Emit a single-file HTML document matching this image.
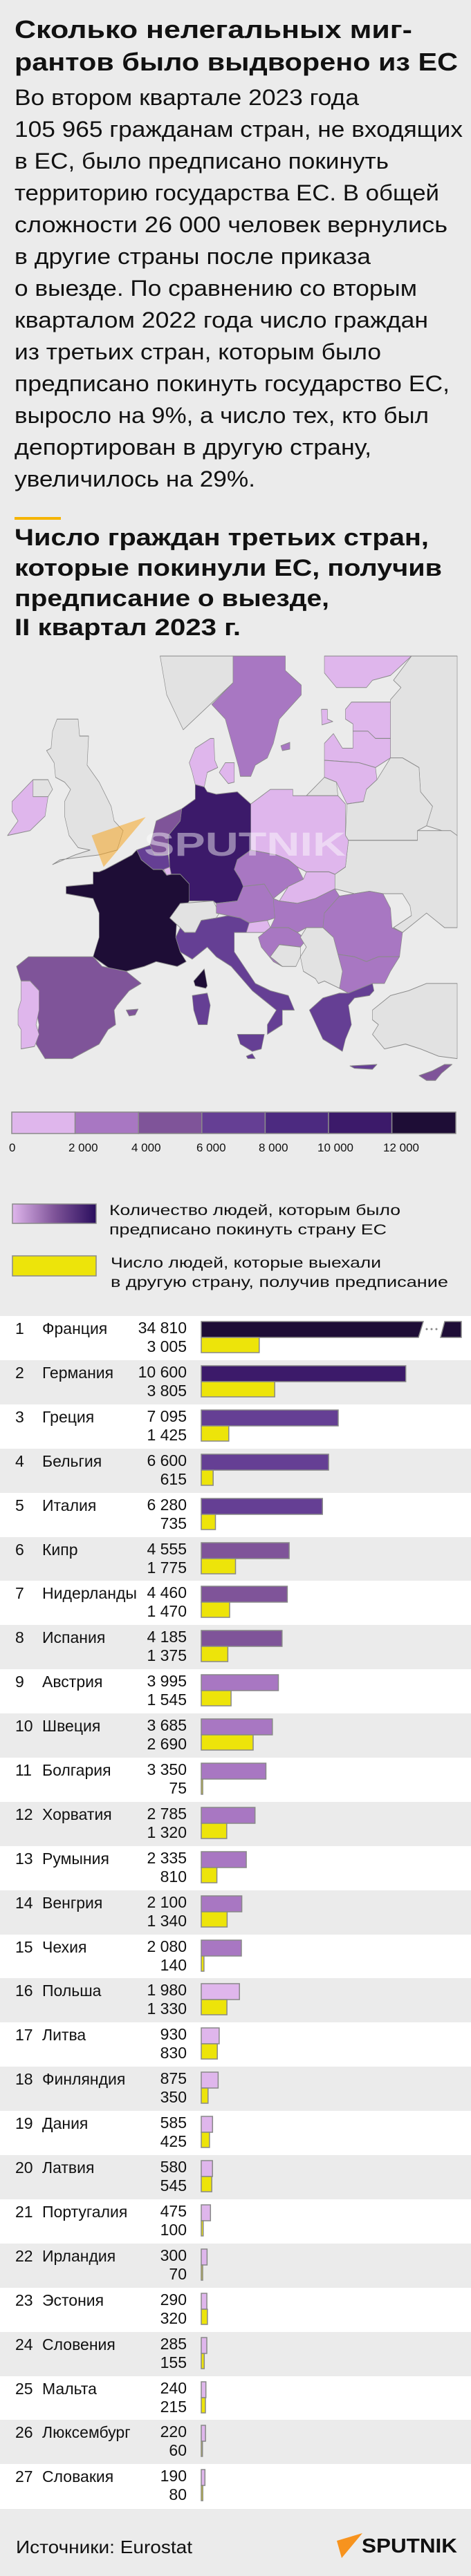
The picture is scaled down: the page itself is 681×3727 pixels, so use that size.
<!DOCTYPE html>
<html><head><meta charset="utf-8"><style>
html,body{margin:0;padding:0;background:#ebebeb;}
svg{display:block;}
text{font-family:"Liberation Sans","DejaVu Sans",sans-serif;fill:#111;}
.b{font-weight:bold;}
</style></head><body>
<svg width="681" height="3727" viewBox="0 0 681 3727" xmlns="http://www.w3.org/2000/svg">
<rect width="681" height="3727" fill="#ebebeb"/>
<!-- Title -->
<text class="b" x="21" y="55" font-size="36" textLength="575" lengthAdjust="spacingAndGlyphs">Сколько нелегальных миг-</text>
<text class="b" x="21" y="102" font-size="36" textLength="641" lengthAdjust="spacingAndGlyphs">рантов было выдворено из ЕС</text>
<g font-size="32">
<text x="21" y="152" textLength="498" lengthAdjust="spacingAndGlyphs">Во втором квартале 2023 года</text>
<text x="21" y="198" textLength="648" lengthAdjust="spacingAndGlyphs">105 965 гражданам стран, не входящих</text>
<text x="21" y="244" textLength="541" lengthAdjust="spacingAndGlyphs">в ЕС, было предписано покинуть</text>
<text x="21" y="290" textLength="614" lengthAdjust="spacingAndGlyphs">территорию государства ЕС. В общей</text>
<text x="21" y="336" textLength="626" lengthAdjust="spacingAndGlyphs">сложности 26 000 человек вернулись</text>
<text x="21" y="382" textLength="515" lengthAdjust="spacingAndGlyphs">в другие страны после приказа</text>
<text x="21" y="428" textLength="582" lengthAdjust="spacingAndGlyphs">о выезде. По сравнению со вторым</text>
<text x="21" y="474" textLength="598" lengthAdjust="spacingAndGlyphs">кварталом 2022 года число граждан</text>
<text x="21" y="520" textLength="530" lengthAdjust="spacingAndGlyphs">из третьих стран, которым было</text>
<text x="21" y="566" textLength="629" lengthAdjust="spacingAndGlyphs">предписано покинуть государство ЕС,</text>
<text x="21" y="612" textLength="599" lengthAdjust="spacingAndGlyphs">выросло на 9%, а число тех, кто был</text>
<text x="21" y="658" textLength="516" lengthAdjust="spacingAndGlyphs">депортирован в другую страну,</text>
<text x="21" y="704" textLength="348" lengthAdjust="spacingAndGlyphs">увеличилось на 29%.</text>
</g>
<rect x="21" y="748" width="67" height="4" fill="#f5b400"/>
<g class="b" font-size="34">
<text class="b" x="21" y="789" textLength="599" lengthAdjust="spacingAndGlyphs">Число граждан третьих стран,</text>
<text class="b" x="21" y="833" textLength="618" lengthAdjust="spacingAndGlyphs">которые покинули ЕС, получив</text>
<text class="b" x="21" y="877" textLength="455" lengthAdjust="spacingAndGlyphs">предписание о выезде,</text>
<text class="b" x="21" y="919" textLength="327" lengthAdjust="spacingAndGlyphs">II квартал 2023 г.</text>
</g>
<!-- Map -->
<g transform="translate(0,900) scale(0.4343,0.7018)" stroke="#8a8a8a" stroke-width="1.5" vector-effect="non-scaling-stroke" stroke-linejoin="round">
<g vector-effect="non-scaling-stroke">
<polygon fill="#e2e2e2" points="533,70 776,70 776,125 610,222 555,150"/>
<polygon fill="#a877c2" points="776,70 950,70 950,100 1003,130 1003,150 930,200 910,250 890,280 850,295 835,318 800,318 795,300 750,200 705,170 776,125"/>
<polygon fill="#dfb6ec" points="1080,70 1370,70 1300,110 1240,120 1220,135 1120,135 1080,105"/>
<polygon fill="#e2e2e2" points="1370,70 1522,70 1522,440 1420,420 1440,380 1400,350 1395,300 1340,280 1300,280 1300,160 1335,135 1310,120"/>
<polygon fill="#dfb6ec" points="1150,180 1170,165 1300,165 1300,240 1250,240 1225,225 1175,225 1175,210 1150,200"/>
<polygon fill="#dfb6ec" points="1080,250 1110,230 1140,260 1175,260 1175,225 1225,225 1250,240 1300,240 1300,280 1250,300 1195,290 1080,285"/>
<polygon fill="#dfb6ec" points="1080,285 1195,290 1250,300 1255,325 1220,345 1210,370 1155,375 1120,330 1080,320"/>
<polygon fill="#e2e2e2" points="1020,358 1080,320 1120,330 1125,358"/>
<polygon fill="#e2e2e2" points="1155,375 1210,370 1220,345 1255,325 1300,280 1340,280 1395,300 1400,350 1440,380 1420,420 1390,430 1390,450 1160,450 1150,440"/>
<polygon fill="#e2e2e2" points="1160,450 1390,450 1390,430 1500,430 1522,440 1522,630 1480,630 1420,600 1340,640 1310,630 1370,605 1365,585 1340,560 1275,560 1230,555 1180,560 1115,550 1115,520 1150,505"/>
<polygon fill="#dfb6ec" points="835,375 900,345 975,345 975,358 1020,358 1125,358 1150,375 1150,440 1160,450 1150,505 1115,520 1095,515 1020,515 990,505 960,490 920,480 835,470"/>
<polygon fill="#dfb6ec" points="630,290 650,260 700,240 712,240 715,285 725,300 690,310 680,340 650,335 640,310"/>
<polygon fill="#dfb6ec" points="730,310 750,290 780,290 780,330 760,333"/>
<polygon fill="#dfb6ec" points="1070,180 1090,180 1090,200 1108,205 1072,212"/>
<polygon fill="#a877c2" points="935,255 965,248 965,262 940,265"/>
<polygon fill="#3c1a6a" points="650,335 680,340 690,350 720,355 790,350 835,375 835,470 790,490 780,510 800,530 810,545 790,575 720,580 710,575 630,575 630,540 600,520 570,520 565,505 560,440 600,410 605,385 650,365"/>
<polygon fill="#7f5499" points="520,410 605,385 600,410 560,440 560,480 515,480 500,460"/>
<polygon fill="#653f94" points="455,470 500,460 515,480 560,480 565,505 570,520 540,510 510,510 470,490"/>
<polygon fill="#dfb6ec" points="545,510 565,505 570,520 555,522"/>
<polygon fill="#1e0d36" points="310,515 330,515 350,510 440,480 455,470 470,490 510,510 540,510 555,522 570,520 600,520 630,540 630,575 610,595 590,600 585,650 600,680 620,700 590,710 520,700 480,710 420,720 400,730 310,690 330,650 330,600 310,570 220,560 220,545 310,540"/>
<polygon fill="#1e0d36" points="645,740 680,715 690,750 685,755 650,750"/>
<polygon fill="#e2e2e2" points="565,610 600,580 710,575 730,600 720,610 670,615 650,640 615,640 600,630"/>
<polygon fill="#653f94" points="600,630 615,640 650,640 670,615 720,610 760,605 800,610 830,620 820,640 780,640 780,680 850,745 900,760 960,770 980,800 940,800 940,830 890,850 890,830 920,800 880,780 840,760 770,710 720,690 690,670 640,695 600,680 585,650"/>
<polygon fill="#653f94" points="790,850 880,850 870,880 840,885 800,870"/>
<polygon fill="#653f94" points="640,770 690,765 700,790 690,830 660,830 645,800"/>
<polygon fill="#7f5499" points="55,710 95,690 310,690 340,710 420,720 470,745 430,760 390,790 380,800 385,830 360,840 330,870 300,880 240,900 150,900 120,870 130,830 120,800 130,760 100,740 70,740"/>
<polygon fill="#dfb6ec" points="70,740 100,740 130,760 130,800 120,830 130,850 115,875 70,880 70,840 60,830 60,800 70,780"/>
<polygon fill="#7f5499" points="420,800 460,798 450,810 430,812"/>
<polygon fill="#a877c2" points="720,580 790,575 810,545 880,540 910,570 915,610 890,615 830,620 800,610 760,605 720,600"/>
<polygon fill="#a877c2" points="790,490 835,470 920,480 960,490 990,505 1010,530 960,545 910,570 880,540 810,545 800,530 780,510"/>
<polygon fill="#dfb6ec" points="960,545 1010,530 1020,515 1095,515 1115,520 1115,550 1050,570 990,580 930,575"/>
<polygon fill="#a877c2" points="910,570 930,575 990,580 1050,570 1115,550 1130,565 1080,600 1075,630 1020,630 990,640 960,630 900,630 915,610"/>
<polygon fill="#dfb6ec" points="830,620 890,615 900,630 880,640 820,640"/>
<polygon fill="#a877c2" points="880,640 900,630 960,630 990,640 1020,655 1000,670 930,665 900,690 940,710 910,700 870,670 860,650"/>
<polygon fill="#a877c2" points="1080,600 1130,565 1180,560 1230,555 1275,560 1300,590 1305,630 1340,640 1330,690 1260,690 1220,700 1180,690 1125,685 1110,650 1075,630"/>
<polygon fill="#a877c2" points="1125,685 1180,690 1220,700 1260,690 1330,690 1300,720 1280,745 1240,745 1230,760 1160,765 1130,755 1140,720"/>
<polygon fill="#e2e2e2" points="1020,630 1075,630 1110,650 1125,685 1140,720 1130,755 1080,740 1060,745 1050,735 1010,720 1000,690 1020,670 1000,650"/>
<polygon fill="#e2e2e2" points="930,665 1000,670 1000,690 985,710 940,710 900,690"/>
<polygon fill="#653f94" points="1030,800 1075,775 1130,765 1160,765 1240,745 1245,760 1230,770 1180,775 1160,790 1170,830 1150,860 1140,885 1075,860 1060,840"/>
<polygon fill="#653f94" points="1165,915 1255,912 1240,922 1180,920"/>
<polygon fill="#e2e2e2" points="1240,800 1300,770 1360,760 1420,745 1522,745 1522,900 1460,895 1400,880 1350,870 1280,880 1240,850 1260,830 1240,820"/>
<polygon fill="#7f5499" points="1395,935 1440,925 1480,912 1505,912 1470,930 1450,945 1420,945"/>
<polygon fill="#653f94" points="820,895 840,890 850,900 825,900"/>
<polygon fill="#e2e2e2" points="175,500 200,490 330,480 390,470 410,430 380,410 370,380 330,330 290,295 295,235 265,235 260,200 190,200 175,225 170,260 155,265 180,290 185,320 215,330 235,345 215,370 215,400 230,440 260,465 300,470 250,480"/>
<polygon fill="#dfb6ec" points="25,440 60,410 40,390 40,370 110,325 160,325 160,360 150,400 100,430"/>
<polygon fill="#e2e2e2" points="110,325 160,325 175,345 160,360 110,360"/>
</g>
<polygon fill="#f5a623" fill-opacity="0.55" stroke="none" points="305,440 485,402 345,505"/>
</g>
<text class="b" x="208" y="1238" font-size="48" fill="#ffffff" fill-opacity="0.45" style="fill:#fff;fill-opacity:0.45" textLength="292" lengthAdjust="spacingAndGlyphs">SPUTNIK</text>
<!-- scale bar -->
<g stroke="#8a8a8a" stroke-width="1.5">
<rect x="17" y="1609" width="91.6" height="31" fill="#dfb6ec"/>
<rect x="108.6" y="1609" width="91.6" height="31" fill="#a877c2"/>
<rect x="200.2" y="1609" width="91.6" height="31" fill="#7f5499"/>
<rect x="291.8" y="1609" width="91.6" height="31" fill="#653f94"/>
<rect x="383.4" y="1609" width="91.6" height="31" fill="#4c2a80"/>
<rect x="475" y="1609" width="91.6" height="31" fill="#3c1a6a"/>
<rect x="566.6" y="1609" width="92.4" height="31" fill="#1e0d36"/>
</g>
<g font-size="17">
<text x="13" y="1666">0</text>
<text x="99" y="1666">2 000</text>
<text x="190" y="1666">4 000</text>
<text x="284" y="1666">6 000</text>
<text x="374" y="1666">8 000</text>
<text x="459" y="1666">10 000</text>
<text x="554" y="1666">12 000</text>
</g>
<!-- legend -->
<defs><linearGradient id="g" x1="0" x2="1"><stop offset="0" stop-color="#dfb6ec"/><stop offset="0.5" stop-color="#7f5499"/><stop offset="1" stop-color="#2a0e5e"/></linearGradient></defs>
<rect x="18" y="1742" width="121" height="28" fill="url(#g)" stroke="#8a8a8a" stroke-width="1.5"/>
<text x="158" y="1758" font-size="21" textLength="421" lengthAdjust="spacingAndGlyphs">Количество людей, которым было</text>
<text x="158" y="1786" font-size="21" textLength="401" lengthAdjust="spacingAndGlyphs">предписано покинуть страну ЕС</text>
<rect x="18" y="1817" width="121" height="29" fill="#ede40a" stroke="#8a8a8a" stroke-width="1.5"/>
<text x="160" y="1834" font-size="21" textLength="391" lengthAdjust="spacingAndGlyphs">Число людей, которые выехали</text>
<text x="160" y="1862" font-size="21" textLength="488" lengthAdjust="spacingAndGlyphs">в другую страну, получив предписание</text>
<!-- rows -->
<g font-size="23">
<rect x="0" y="1904" width="681" height="64" fill="#fff"/>
<rect x="0" y="2032" width="681" height="64" fill="#fff"/>
<rect x="0" y="2160" width="681" height="64" fill="#fff"/>
<rect x="0" y="2287" width="681" height="64" fill="#fff"/>
<rect x="0" y="2415" width="681" height="64" fill="#fff"/>
<rect x="0" y="2543" width="681" height="64" fill="#fff"/>
<rect x="0" y="2671" width="681" height="64" fill="#fff"/>
<rect x="0" y="2799" width="681" height="63" fill="#fff"/>
<rect x="0" y="2926" width="681" height="64" fill="#fff"/>
<rect x="0" y="3054" width="681" height="64" fill="#fff"/>
<rect x="0" y="3182" width="681" height="64" fill="#fff"/>
<rect x="0" y="3310" width="681" height="64" fill="#fff"/>
<rect x="0" y="3438" width="681" height="63" fill="#fff"/>
<rect x="0" y="3565" width="681" height="65" fill="#fff"/>
</g>
<g font-size="23" id="labels">
<text x="22" y="1930">1</text><text x="61" y="1930">Франция</text><text x="270" y="1929" text-anchor="end">34 810</text><text x="270" y="1956" text-anchor="end">3 005</text>
<text x="22" y="1994">2</text><text x="61" y="1994">Германия</text><text x="270" y="1993" text-anchor="end">10 600</text><text x="270" y="2020" text-anchor="end">3 805</text>
<text x="22" y="2058">3</text><text x="61" y="2058">Греция</text><text x="270" y="2057" text-anchor="end">7 095</text><text x="270" y="2084" text-anchor="end">1 425</text>
<text x="22" y="2122">4</text><text x="61" y="2122">Бельгия</text><text x="270" y="2121" text-anchor="end">6 600</text><text x="270" y="2148" text-anchor="end">615</text>
<text x="22" y="2186">5</text><text x="61" y="2186">Италия</text><text x="270" y="2185" text-anchor="end">6 280</text><text x="270" y="2212" text-anchor="end">735</text>
<text x="22" y="2250">6</text><text x="61" y="2250">Кипр</text><text x="270" y="2249" text-anchor="end">4 555</text><text x="270" y="2276" text-anchor="end">1 775</text>
<text x="22" y="2313">7</text><text x="61" y="2313" textLength="137" lengthAdjust="spacingAndGlyphs">Нидерланды</text><text x="270" y="2312" text-anchor="end">4 460</text><text x="270" y="2339" text-anchor="end">1 470</text>
<text x="22" y="2377">8</text><text x="61" y="2377">Испания</text><text x="270" y="2376" text-anchor="end">4 185</text><text x="270" y="2403" text-anchor="end">1 375</text>
<text x="22" y="2441">9</text><text x="61" y="2441">Австрия</text><text x="270" y="2440" text-anchor="end">3 995</text><text x="270" y="2467" text-anchor="end">1 545</text>
<text x="22" y="2505">10</text><text x="61" y="2505">Швеция</text><text x="270" y="2504" text-anchor="end">3 685</text><text x="270" y="2531" text-anchor="end">2 690</text>
<text x="22" y="2569">11</text><text x="61" y="2569">Болгария</text><text x="270" y="2568" text-anchor="end">3 350</text><text x="270" y="2595" text-anchor="end">75</text>
<text x="22" y="2633">12</text><text x="61" y="2633">Хорватия</text><text x="270" y="2632" text-anchor="end">2 785</text><text x="270" y="2659" text-anchor="end">1 320</text>
<text x="22" y="2697">13</text><text x="61" y="2697">Румыния</text><text x="270" y="2696" text-anchor="end">2 335</text><text x="270" y="2723" text-anchor="end">810</text>
<text x="22" y="2761">14</text><text x="61" y="2761">Венгрия</text><text x="270" y="2760" text-anchor="end">2 100</text><text x="270" y="2787" text-anchor="end">1 340</text>
<text x="22" y="2825">15</text><text x="61" y="2825">Чехия</text><text x="270" y="2824" text-anchor="end">2 080</text><text x="270" y="2851" text-anchor="end">140</text>
<text x="22" y="2888">16</text><text x="61" y="2888">Польша</text><text x="270" y="2887" text-anchor="end">1 980</text><text x="270" y="2914" text-anchor="end">1 330</text>
<text x="22" y="2952">17</text><text x="61" y="2952">Литва</text><text x="270" y="2951" text-anchor="end">930</text><text x="270" y="2978" text-anchor="end">830</text>
<text x="22" y="3016">18</text><text x="61" y="3016">Финляндия</text><text x="270" y="3015" text-anchor="end">875</text><text x="270" y="3042" text-anchor="end">350</text>
<text x="22" y="3080">19</text><text x="61" y="3080">Дания</text><text x="270" y="3079" text-anchor="end">585</text><text x="270" y="3106" text-anchor="end">425</text>
<text x="22" y="3144">20</text><text x="61" y="3144">Латвия</text><text x="270" y="3143" text-anchor="end">580</text><text x="270" y="3170" text-anchor="end">545</text>
<text x="22" y="3208">21</text><text x="61" y="3208">Португалия</text><text x="270" y="3207" text-anchor="end">475</text><text x="270" y="3234" text-anchor="end">100</text>
<text x="22" y="3272">22</text><text x="61" y="3272">Ирландия</text><text x="270" y="3271" text-anchor="end">300</text><text x="270" y="3298" text-anchor="end">70</text>
<text x="22" y="3336">23</text><text x="61" y="3336">Эстония</text><text x="270" y="3335" text-anchor="end">290</text><text x="270" y="3362" text-anchor="end">320</text>
<text x="22" y="3400">24</text><text x="61" y="3400">Словения</text><text x="270" y="3399" text-anchor="end">285</text><text x="270" y="3426" text-anchor="end">155</text>
<text x="22" y="3464">25</text><text x="61" y="3464">Мальта</text><text x="270" y="3463" text-anchor="end">240</text><text x="270" y="3490" text-anchor="end">215</text>
<text x="22" y="3527">26</text><text x="61" y="3527">Люксембург</text><text x="270" y="3526" text-anchor="end">220</text><text x="270" y="3553" text-anchor="end">60</text>
<text x="22" y="3591">27</text><text x="61" y="3591">Словакия</text><text x="270" y="3590" text-anchor="end">190</text><text x="270" y="3617" text-anchor="end">80</text>
</g>
<g stroke="#888" stroke-width="1.5">
<polygon points="291,1912 612,1912 605,1935 291,1935" fill="#1e0d36"/>
<polygon points="643,1912 667,1912 667,1935 637,1935" fill="#1e0d36"/>
<rect x="291" y="1935" width="83.8" height="22" fill="#ede40a"/>
<rect x="291" y="1976" width="295.7" height="23" fill="#3c1a6a"/><rect x="291" y="1999" width="106.2" height="22" fill="#ede40a"/>
<rect x="291" y="2040" width="198" height="23" fill="#653f94"/><rect x="291" y="2063" width="39.8" height="22" fill="#ede40a"/>
<rect x="291" y="2104" width="184.1" height="23" fill="#653f94"/><rect x="291" y="2127" width="17.2" height="22" fill="#ede40a"/>
<rect x="291" y="2168" width="175.2" height="23" fill="#653f94"/><rect x="291" y="2191" width="20.5" height="22" fill="#ede40a"/>
<rect x="291" y="2232" width="127.1" height="23" fill="#7f5499"/><rect x="291" y="2255" width="49.5" height="22" fill="#ede40a"/>
<rect x="291" y="2295" width="124.4" height="23" fill="#7f5499"/><rect x="291" y="2318" width="41" height="22" fill="#ede40a"/>
<rect x="291" y="2359" width="116.8" height="23" fill="#7f5499"/><rect x="291" y="2382" width="38.4" height="22" fill="#ede40a"/>
<rect x="291" y="2423" width="111.5" height="23" fill="#a877c2"/><rect x="291" y="2446" width="43.1" height="22" fill="#ede40a"/>
<rect x="291" y="2487" width="102.8" height="23" fill="#a877c2"/><rect x="291" y="2510" width="75" height="22" fill="#ede40a"/>
<rect x="291" y="2551" width="93.5" height="23" fill="#a877c2"/><rect x="291" y="2574" width="2.1" height="22" fill="#ede40a"/>
<rect x="291" y="2615" width="77.7" height="23" fill="#a877c2"/><rect x="291" y="2638" width="36.8" height="22" fill="#ede40a"/>
<rect x="291" y="2679" width="65.1" height="23" fill="#a877c2"/><rect x="291" y="2702" width="22.6" height="22" fill="#ede40a"/>
<rect x="291" y="2743" width="58.6" height="23" fill="#a877c2"/><rect x="291" y="2766" width="37.4" height="22" fill="#ede40a"/>
<rect x="291" y="2807" width="58" height="23" fill="#a877c2"/><rect x="291" y="2830" width="3.9" height="22" fill="#ede40a"/>
<rect x="291" y="2870" width="55.2" height="23" fill="#dfb6ec"/><rect x="291" y="2893" width="37.1" height="22" fill="#ede40a"/>
<rect x="291" y="2934" width="25.9" height="23" fill="#dfb6ec"/><rect x="291" y="2957" width="23.2" height="22" fill="#ede40a"/>
<rect x="291" y="2998" width="24.4" height="23" fill="#dfb6ec"/><rect x="291" y="3021" width="9.8" height="22" fill="#ede40a"/>
<rect x="291" y="3062" width="16.3" height="23" fill="#dfb6ec"/><rect x="291" y="3085" width="11.9" height="22" fill="#ede40a"/>
<rect x="291" y="3126" width="16.2" height="23" fill="#dfb6ec"/><rect x="291" y="3149" width="15.2" height="22" fill="#ede40a"/>
<rect x="291" y="3190" width="13.3" height="23" fill="#dfb6ec"/><rect x="291" y="3213" width="2.8" height="22" fill="#ede40a"/>
<rect x="291" y="3254" width="8.4" height="23" fill="#dfb6ec"/><rect x="291" y="3277" width="2" height="22" fill="#ede40a"/>
<rect x="291" y="3318" width="8.1" height="23" fill="#dfb6ec"/><rect x="291" y="3341" width="8.9" height="22" fill="#ede40a"/>
<rect x="291" y="3382" width="8" height="23" fill="#dfb6ec"/><rect x="291" y="3405" width="4.3" height="22" fill="#ede40a"/>
<rect x="291" y="3446" width="6.7" height="23" fill="#dfb6ec"/><rect x="291" y="3469" width="6" height="22" fill="#ede40a"/>
<rect x="291" y="3509" width="6.1" height="23" fill="#dfb6ec"/><rect x="291" y="3532" width="1.7" height="22" fill="#ede40a"/>
<rect x="291" y="3573" width="5.3" height="23" fill="#dfb6ec"/><rect x="291" y="3596" width="2.2" height="22" fill="#ede40a"/>
</g>
<g fill="#888"><circle cx="617" cy="1923" r="1.5"/><circle cx="624" cy="1923" r="1.5"/><circle cx="631" cy="1923" r="1.5"/></g>
<!-- footer -->
<text x="23" y="3694" font-size="26" textLength="255" lengthAdjust="spacingAndGlyphs">Источники: Eurostat</text>
<polygon points="487,3676 524,3665 494,3701" fill="#f7931e"/>
<text class="b" x="523" y="3693" font-size="29" textLength="138" lengthAdjust="spacingAndGlyphs">SPUTNIK</text>
</svg>
</body></html>
